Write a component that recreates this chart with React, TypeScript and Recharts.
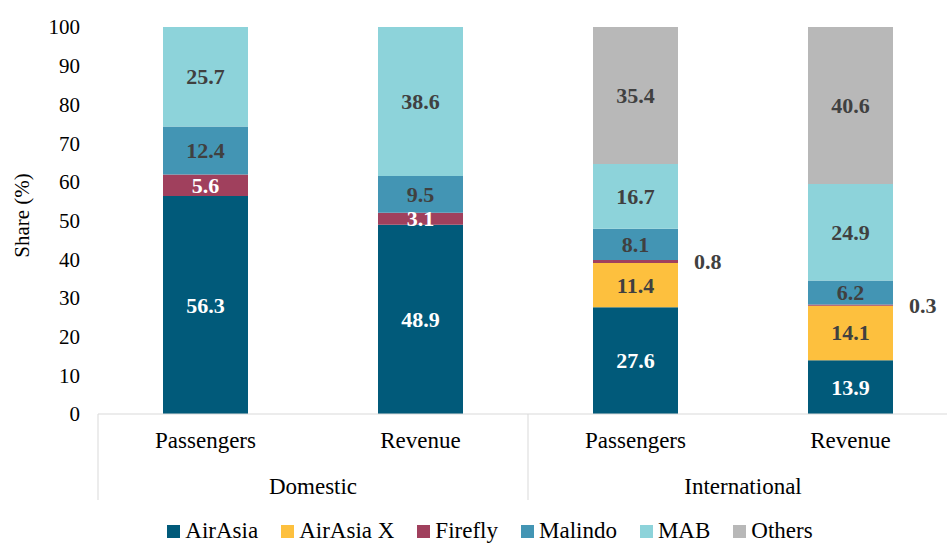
import { Bar, BarChart, LabelList, Legend, XAxis, YAxis } from "recharts";

const categories = ["Passengers", "Revenue", "Passengers", "Revenue"];
const groups = ["Domestic", "Domestic", "International", "International"];

const airAsia = [56.3, 48.9, 27.6, 13.9];
const airAsiaX = [0, 0, 11.4, 14.1];
const firefly = [5.6, 3.1, 0.8, 0.3];
const malindo = [12.4, 9.5, 8.1, 6.2];
const mab = [25.7, 38.6, 16.7, 24.9];
const others = [0, 0, 35.4, 40.6];

const yTicks = [0, 10, 20, 30, 40, 50, 60, 70, 80, 90, 100];

const series = [
  { key: "airAsia", name: "AirAsia", color: "#015a7a", text: "#ffffff" },
  { key: "airAsiaX", name: "AirAsia X", color: "#fdc03e", text: "#404040" },
  { key: "firefly", name: "Firefly", color: "#a0405d", text: "#ffffff" },
  { key: "malindo", name: "Malindo", color: "#4395b4", text: "#404040" },
  { key: "mab", name: "MAB", color: "#8dd3da", text: "#404040" },
  { key: "others", name: "Others", color: "#b8b8b8", text: "#404040" },
];

const data = categories.map((c, i) => ({
  id: `${groups[i]} ${c}`,
  airAsia: airAsia[i],
  airAsiaX: airAsiaX[i],
  firefly: firefly[i],
  malindo: malindo[i],
  mab: mab[i],
  others: others[i],
}));

const FONT = '"Liberation Serif"';
const W = 970;
const H = 560;
const M = { top: 27, right: 12, left: 0, bottom: 56 };
const Y_W = 98;
const BAND = (W - M.left - M.right - Y_W) / categories.length;
const GRID = "#d9d9d9";

function CategoryTick(props: any) {
  const { x, y, index } = props;
  const last = index === categories.length - 1;
  return (
    <g>
      <text x={x} y={y + 34} textAnchor="middle" style={{ fontFamily: FONT, fontSize: 23 }} fill="#000">
        {categories[index]}
      </text>
      {index % 2 === 0 && (
        <>
          <line x1={x - BAND / 2} x2={x - BAND / 2} y1={y} y2={y + 86} stroke={GRID} />
          <text x={x + BAND / 2} y={y + 80} textAnchor="middle" style={{ fontFamily: FONT, fontSize: 23 }} fill="#000">
            {groups[index]}
          </text>
        </>
      )}
      {last && <line x1={x + BAND / 2} x2={x + BAND / 2} y1={y} y2={y + 86} stroke={GRID} />}
    </g>
  );
}

const segmentLabel = (color: string, outsideSmall = false) => (props: any) => {
  const { x, y, width, height, value } = props;
  if (!value) return null;
  const small = outsideSmall && value < 1;
  return (
    <text
      x={small ? x + width + 16 : x + width / 2}
      y={y + height / 2}
      textAnchor={small ? "start" : "middle"}
      dominantBaseline="central"
      style={{ fontFamily: FONT, fontSize: 22, fontWeight: "bold" }}
      fill={small ? "#404040" : color}
    >
      {Number(value).toFixed(1)}
    </text>
  );
};

function LegendContent() {
  return (
    <div style={{ display: "flex", justifyContent: "center", gap: 23, fontFamily: FONT, fontSize: 23, lineHeight: "24px", color: "#000" }}>
      {series.map(s => (
        <div key={s.key} style={{ display: "flex", alignItems: "center", gap: 5 }}>
          <span style={{ width: 13, height: 13, background: s.color, display: "inline-block" }} />
          <span>{s.name}</span>
        </div>
      ))}
    </div>
  );
}

export default function App() {
  return (
    <div style={{ position: "fixed", top: 0, left: 0, width: 947, height: 544, overflow: "hidden", background: "#fff", fontFamily: FONT }}>
      <BarChart width={W} height={H} data={data} margin={M} barSize={85} style={{ fontFamily: FONT }}>
        <XAxis
          dataKey="id"
          height={90}
          interval={0}
          tickLine={false}
          tickSize={0}
          tickMargin={0}
          axisLine={{ stroke: GRID }}
          tick={<CategoryTick />}
        />
        <YAxis
          width={Y_W}
          domain={[0, 100]}
          ticks={yTicks}
          allowDataOverflow
          axisLine={false}
          tickLine={false}
          tickMargin={12}
          tick={{ fill: "#000", fontSize: 21, fontFamily: "Liberation Serif" }}
          label={{
            content: ({ viewBox }: any) => (
              <text
                x={22}
                y={viewBox.y + viewBox.height / 2 - 5}
                transform={`rotate(-90 22 ${viewBox.y + viewBox.height / 2 - 5})`}
                textAnchor="middle"
                dominantBaseline="central"
                style={{ fontFamily: FONT, fontSize: 21 }}
                fill="#000"
              >
                Share (%)
              </text>
            ),
          }}
        />
        <Legend verticalAlign="middle" align="center" wrapperStyle={{ top: 519, left: 5, width: W }} content={<LegendContent />} />
        {series.map(s => (
          <Bar key={s.key} dataKey={s.key} name={s.name} stackId="share" fill={s.color} isAnimationActive={false}>
            <LabelList dataKey={s.key} content={segmentLabel(s.text, s.key === "firefly")} />
          </Bar>
        ))}
      </BarChart>
    </div>
  );
}
